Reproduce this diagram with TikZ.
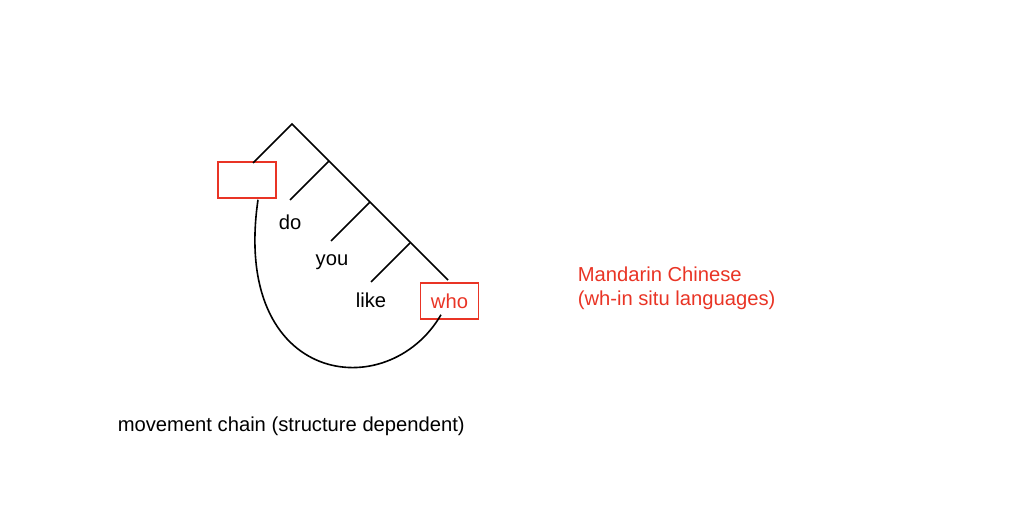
\documentclass[tikz,border=0pt]{standalone}
\usepackage{fontspec}
\setmainfont{Liberation Sans}
\usetikzlibrary{positioning}
\definecolor{wordred}{RGB}{233,52,37}

\begin{document}
\begin{tikzpicture}[x=1pt, y=-1pt,
                    every node/.append style={font=\fontsize{20.2}{24}\selectfont, inner sep=0pt},
                    redlabel/.style={text=wordred, align=left},
                    slot/.style={rectangle, draw=wordred, line width=1.5pt, minimum width=58pt, minimum height=36pt},
                    every path/.append style={line width=1.6pt}]
    \useasboundingbox (0,0) rectangle (1028,522);

    % Tree junctions
    \coordinate (apex) at (292,124);
    \coordinate (j_do) at (329,161);
    \coordinate (j_you) at (370,202);
    \coordinate (j_like) at (410,243);
    \coordinate (spine_end) at (448,280);

    \node [slot] (gap) at (247,180) {};
    \node [slot, text=wordred] (who) at (449.5,301) {who};
    \coordinate (gap_top) at (253,163);

    \node [] (do) at (290,222) {do};
    \node [] (you) at (332,262) {you};
    \node [] (like) at (371,300) {like};
    \coordinate (do_top) at (290,200);
    \coordinate (you_top) at (331,241);
    \coordinate (like_top) at (371,282);

    \node [redlabel, anchor=west] (mandarin) at (577,288) {Mandarin Chinese\\(wh-in situ languages)};
    \node [anchor=west] (chain) at (117,426) {movement chain (structure dependent)};

    % Draw the tree
    \draw (gap_top) -- (apex) -- (spine_end);
    \draw (j_do)   -- (do_top);
    \draw (j_you)  -- (you_top);
    \draw (j_like) -- (like_top);
    % Draw the chain
    \draw ([xshift=11pt, yshift=-1pt]gap.south) .. controls (231,386) and (388,406) .. ([xshift=-8.5pt, yshift=5pt]who.south);
\end{tikzpicture}
\end{document}
